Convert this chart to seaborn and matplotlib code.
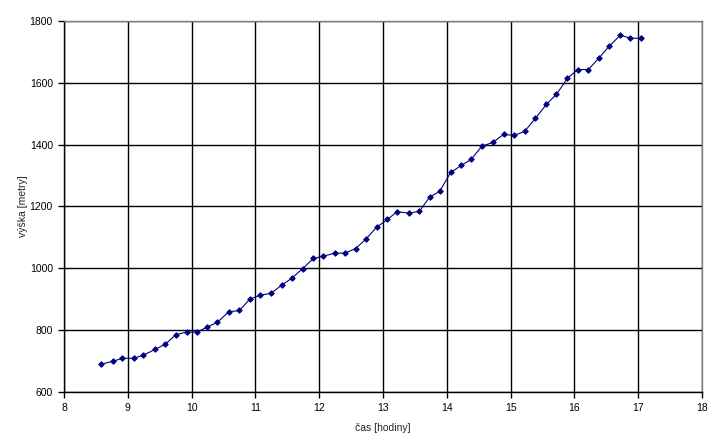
import pandas as pd
import matplotlib
matplotlib.use("Agg")
import matplotlib.pyplot as plt
import seaborn as sns

# time of day (hours) and altitude (metres)
cas = [8.58, 8.76, 8.91, 9.09, 9.24, 9.43, 9.59, 9.75, 9.92, 10.09,
       10.24, 10.40, 10.58, 10.75, 10.91, 11.07, 11.24, 11.41, 11.57, 11.74,
       11.91, 12.06, 12.24, 12.40, 12.57, 12.73, 12.90, 13.07, 13.22, 13.40,
       13.57, 13.73, 13.89, 14.06, 14.23, 14.38, 14.55, 14.72, 14.89, 15.06,
       15.22, 15.39, 15.56, 15.72, 15.89, 16.05, 16.22, 16.38, 16.55, 16.72,
       16.88, 17.05]
vyska = [690, 699, 709, 709, 719, 738, 755, 785, 794, 794,
         810, 825, 859, 864, 900, 913, 919, 945, 968, 999,
         1032, 1039, 1049, 1049, 1064, 1094, 1133, 1158, 1183, 1179,
         1184, 1230, 1249, 1310, 1333, 1352, 1395, 1407, 1433, 1430,
         1443, 1485, 1530, 1563, 1614, 1643, 1643, 1679, 1719, 1754,
         1744, 1744]

df = pd.DataFrame({"cas": cas, "vyska": vyska})

sns.set_style("white")
plt.rcParams["font.family"] = ["Liberation Sans", "DejaVu Sans"]

fig = plt.figure(figsize=(7.17, 4.46), dpi=100)
ax = fig.add_axes([0.0893, 0.121, 0.8897, 0.832])

sns.lineplot(data=df, x="cas", y="vyska", ax=ax, color="#000080",
             linewidth=0.8, marker="D", markersize=2.8,
             markeredgecolor="#000080", markerfacecolor="#000080")

ax.set_xlim(8, 18)
ax.set_ylim(600, 1800)
ax.set_xticks(range(8, 19))
ax.set_yticks(range(600, 1801, 200))
ax.grid(True, color="black", linewidth=1)
ax.set_axisbelow(True)

for s in ["left", "bottom"]:
    ax.spines[s].set_color("black")
    ax.spines[s].set_linewidth(1)
for s in ["top", "right"]:
    ax.spines[s].set_color("#808080")
    ax.spines[s].set_linewidth(1)

ax.tick_params(axis="both", direction="out", length=4, width=1,
               colors="black", labelsize=7.5, pad=4,
               bottom=True, left=True)
ax.set_xlabel("čas [hodiny]", fontsize=7.5, labelpad=7)
ax.set_ylabel("výška [metry]", fontsize=7.5, labelpad=1.5)

fig.savefig("out.png", dpi=100, facecolor="white")
